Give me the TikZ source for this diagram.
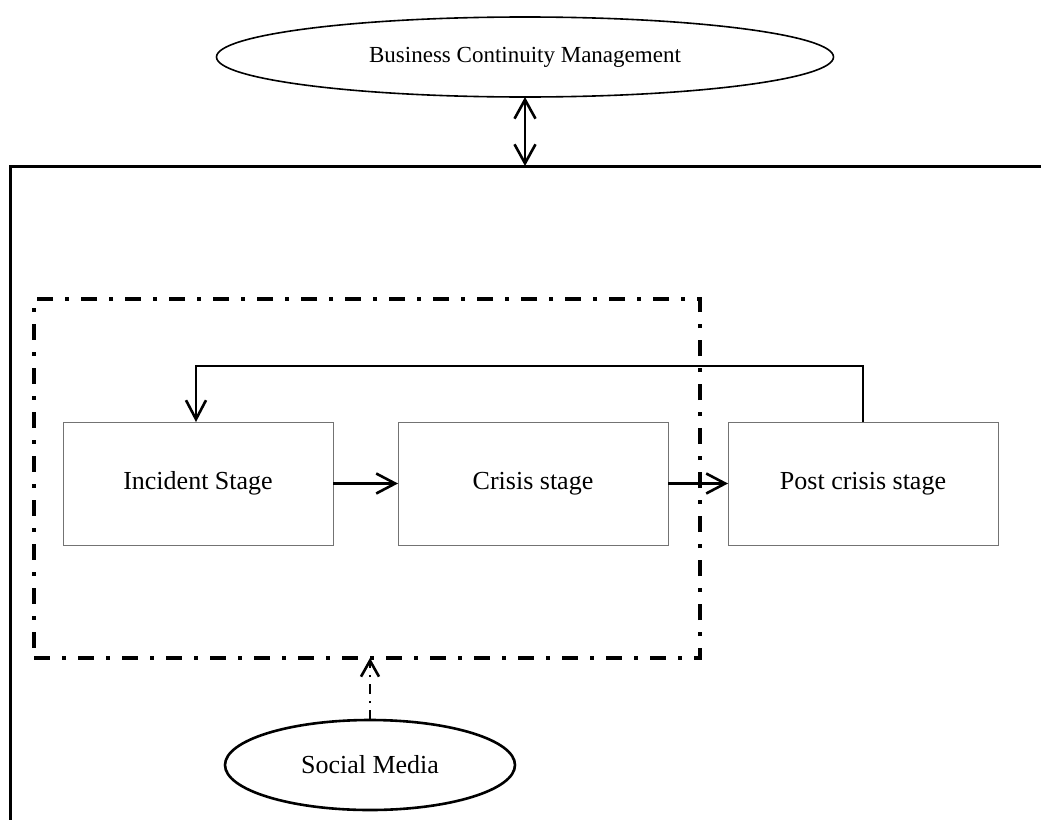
\documentclass[tikz,border=0pt]{standalone}
\usepackage{fontspec}
\setmainfont{Liberation Serif}
\usetikzlibrary{shapes.geometric,arrows.meta,positioning,calc}

\begin{document}
\begin{tikzpicture}[
    x=1pt,y=-1pt,
    node distance=65pt and 65pt,
    stage/.style={rectangle,draw=black!55,line width=1pt,minimum width=270pt,minimum height=123pt,
                  outer sep=0pt,inner sep=0pt,text centered,font=\fontsize{26}{30}\selectfont},
    oval/.style={ellipse,draw,line width=1.6pt,inner sep=0pt,outer sep=0pt,font=\fontsize{26}{30}\selectfont},
    barb/.style={Straight Barb[length=19pt,width=20pt,line width=2.6pt]},
    arr/.style={-{Straight Barb[length=19pt,width=20pt,line width=2.6pt]},line width=2.6pt},
    dashdot/.style={line width=4pt,dash pattern=on 16pt off 12pt on 4pt off 12pt}
]
\useasboundingbox (0,0) rectangle (1041,819);

% outer frame (open at right and bottom)
\coordinate (frameTL) at (10,166);
\draw[line width=3pt] (10,830) -- (frameTL) -- (1050,166);

\node[oval,minimum width=617pt,minimum height=80pt,font=\fontsize{23}{28}\selectfont] (bcm) at (525,57) {Business Continuity Management};
\draw[{Straight Barb[length=19pt,width=21pt,line width=2.6pt]}-{Straight Barb[length=19pt,width=21pt,line width=2.6pt]},line width=2.6pt]
    (bcm.south) -- (bcm.south |- frameTL);

% stages
\node[stage] (inc) at (198,483.5) {Incident Stage};
\node[stage,right=of inc] (crisis) {Crisis stage};
\node[stage,right=60pt of crisis] (post) {Post crisis stage};

\draw[arr] (inc) -- (crisis);
\draw[arr] (crisis) -- (post);
\coordinate (fb) at (196,366);
\draw[arr] (post.north) |- (fb) -- (fb |- inc.north);

% dash-dot region
\node[rectangle,draw,dashdot,minimum width=666pt,minimum height=359pt,outer sep=0pt,inner sep=0pt] (scope) at (367,478.5) {};

\node[oval,line width=2.6pt,minimum width=290pt,minimum height=90pt] (social) at (370,765) {Social Media};
\draw[-{Straight Barb[length=16pt,width=18pt,line width=2.6pt]},line width=2.6pt,dash pattern=on 10pt off 7pt on 2pt off 7pt]
    (social.north) -- (social.north |- scope.south);
\end{tikzpicture}
\end{document}
